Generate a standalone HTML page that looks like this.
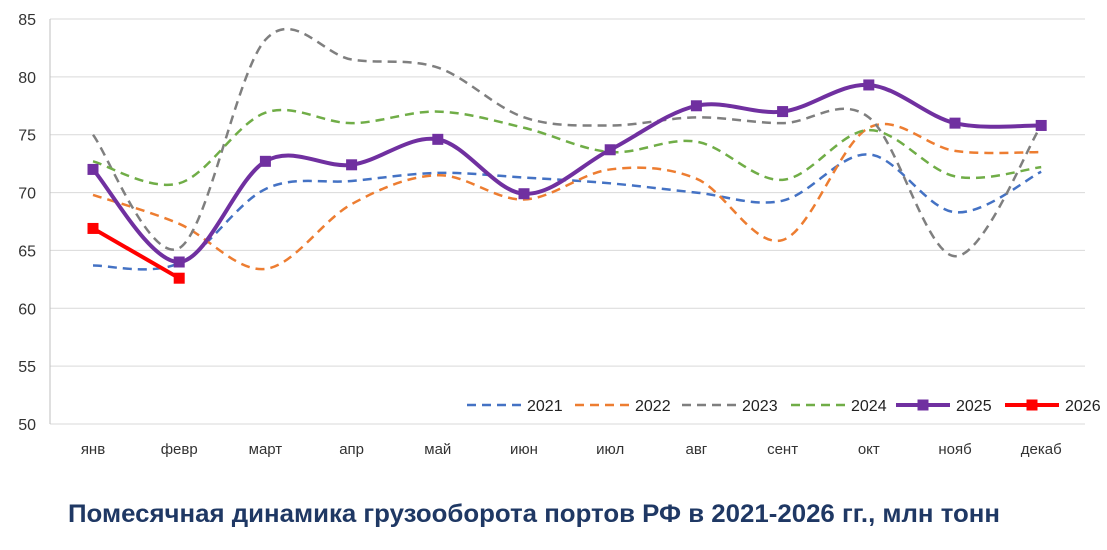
<!DOCTYPE html>
<html><head><meta charset="utf-8"><style>
html,body{margin:0;padding:0;background:#fff;}
svg text{font-family:"Liberation Sans",sans-serif;}
</style></head><body>
<svg id="c" width="1107" height="545" xmlns="http://www.w3.org/2000/svg">
<rect width="1107" height="545" fill="#fff"/>
<g id="grid"></g>
<g id="lines"></g>
<text x="68" y="522" textLength="932" lengthAdjust="spacingAndGlyphs" font-size="25" font-weight="bold" fill="#1F3864" style="font-family:'Liberation Sans','DejaVu Sans',sans-serif">Помесячная динамика грузооборота портов РФ в 2021-2026 гг., млн тонн</text>
</svg>
<script>
const NS="http://www.w3.org/2000/svg";
const svg=document.getElementById('c'),grid=document.getElementById('grid'),lines=document.getElementById('lines');
function el(t,a,p){const e=document.createElementNS(NS,t);for(const k in a)e.setAttribute(k,a[k]);(p||svg).appendChild(e);return e;}
const y0=424,pu=405/35,X0=50,X1=1085;
const Y=v=>y0-(v-50)*pu;
const X=i=>93+i*86.2;
for(let v=50;v<=85;v+=5){el('line',{x1:X0,x2:X1,y1:Y(v),y2:Y(v),stroke:'#d9d9d9','stroke-width':1},grid);
 const t=el('text',{x:36,y:Y(v)+6,'text-anchor':'end','font-size':16,fill:'#333'},grid);t.textContent=v;}
el('line',{x1:X0,x2:X0,y1:Y(85),y2:y0,stroke:'#bfbfbf'},grid);
const m=['янв','февр','март','апр','май','июн','июл','авг','сент','окт','нояб','декаб'];
m.forEach((s,i)=>{const t=el('text',{x:X(i),y:454,'text-anchor':'middle','font-size':15,fill:'#333'},grid);t.textContent=s;});
const S=[
['2021','#4472C4',[63.7,63.9,70.3,71.0,71.7,71.3,70.8,70.0,69.3,73.3,68.3,71.8],1],
['2022','#ED7D31',[69.8,67.3,63.4,69.0,71.5,69.4,72.0,71.2,65.9,75.6,73.6,73.5],1],
['2023','#7F7F7F',[75.0,65.2,83.2,81.5,80.8,76.5,75.8,76.5,76.0,76.5,64.5,75.8],1],
['2024','#70AD47',[72.7,70.8,76.9,76.0,77.0,75.6,73.5,74.4,71.1,75.4,71.4,72.2],1],
['2025','#7030A0',[72.0,64.0,72.7,72.4,74.6,69.9,73.7,77.5,77.0,79.3,76.0,75.8],0],
['2026','#FF0000',[66.9,62.6],0]];
function path(p){let d=`M${p[0][0]},${p[0][1]}`;const k=0.5/3*2;
 for(let i=0;i<p.length-1;i++){const a=p[i-1]||p[i],b=p[i],c=p[i+1],e=p[i+2]||c;
 d+=` C${b[0]+(c[0]-a[0])*k/2},${b[1]+(c[1]-a[1])*k/2} ${c[0]-(e[0]-b[0])*k/2},${c[1]-(e[1]-b[1])*k/2} ${c[0]},${c[1]}`;}return d;}
S.forEach(([n,col,v,dash])=>{const p=v.map((y,i)=>[X(i),Y(y)]);
 if(n==='2026'){el('polyline',{points:p.map(q=>q.join(',')).join(' '),fill:'none',stroke:col,'stroke-width':4},lines);}
 else el('path',{d:path(p),fill:'none',stroke:col,'stroke-width':dash?2.5:4,'stroke-dasharray':dash?'9,6':'none'},lines);
 if(!dash)p.forEach(q=>el('rect',{x:q[0]-5.5,y:q[1]-5.5,width:11,height:11,fill:col},lines));});
const LX=[467,575,682,791,896,1005];
S.forEach(([n,col,v,dash],i)=>{const x=LX[i];
 el('line',{x1:x,x2:x+54,y1:405,y2:405,stroke:col,'stroke-width':dash?2.5:4,'stroke-dasharray':dash?'9,6':'none'},lines);
 if(!dash)el('rect',{x:x+21.5,y:399.5,width:11,height:11,fill:col},lines);
 const t=el('text',{x:x+60,y:411,'font-size':16,fill:'#222'},lines);t.textContent=n;});
</script>
</body></html>
